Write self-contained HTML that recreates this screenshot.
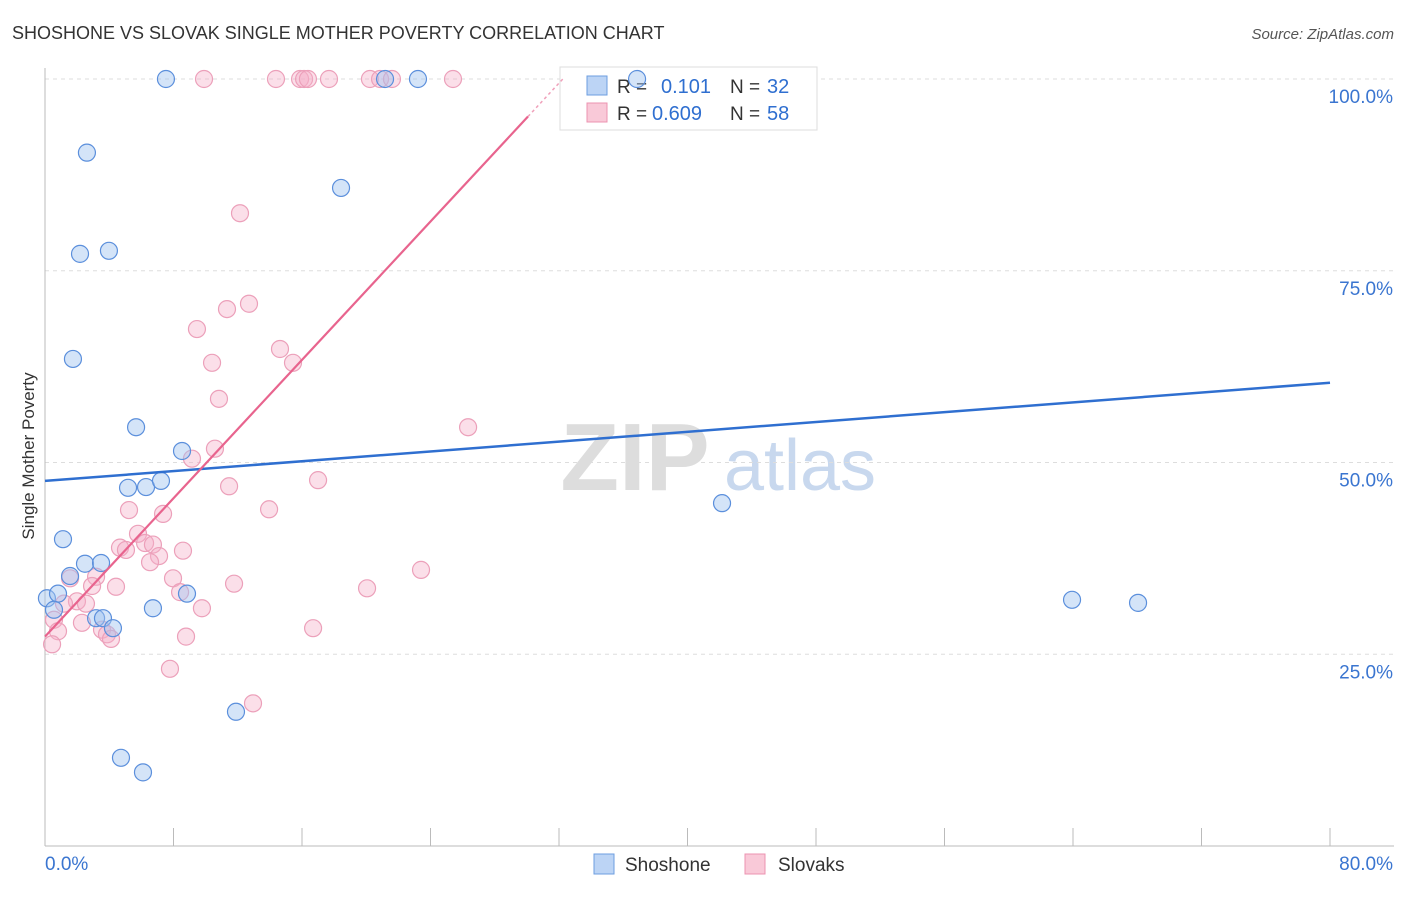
<!DOCTYPE html>
<html><head><meta charset="utf-8">
<style>
body{margin:0;background:#fff;font-family:"Liberation Sans",sans-serif;}
svg text{font-family:"Liberation Sans",sans-serif;}
</style></head>
<body>
<svg id="chart" width="1406" height="892" xmlns="http://www.w3.org/2000/svg">
<text x="12" y="39" font-size="18" fill="#333">SHOSHONE VS SLOVAK SINGLE MOTHER POVERTY CORRELATION CHART</text>
<text x="1394" y="39" font-size="15" fill="#555" text-anchor="end" font-style="italic">Source: ZipAtlas.com</text>
<text transform="translate(34,456) rotate(-90)" font-size="17" fill="#333" text-anchor="middle">Single Mother Poverty</text>
<g>
<text x="635" y="490" font-size="96" fill="#ddd" font-family="Liberation Serif" text-anchor="middle" font-weight="bold">ZIP</text>
<text x="800" y="490" font-size="72" fill="#c8d8ee" text-anchor="middle">atlas</text>
</g>
<g id="grid"></g><g id="axes"></g>
<g>
<rect x="560" y="67" width="257" height="63" fill="#fff" stroke="#ddd"/>
<rect x="587" y="76" width="20" height="19" fill="#bcd4f5" stroke="#6d9ee0"/>
<text x="617" y="93" font-size="19" fill="#333">R =</text><text x="661" y="93" font-size="20" fill="#2f6fd0">0.101</text>
<text x="730" y="93" font-size="19" fill="#333">N =</text><text x="767" y="93" font-size="20" fill="#2f6fd0">32</text>
<rect x="587" y="103" width="20" height="19" fill="#f9c9d8" stroke="#ec93b0"/>
<text x="617" y="120" font-size="19" fill="#333">R =</text><text x="652" y="120" font-size="20" fill="#2f6fd0">0.609</text>
<text x="730" y="120" font-size="19" fill="#333">N =</text><text x="767" y="120" font-size="20" fill="#2f6fd0">58</text>
</g>
<g id="pts"></g><g id="trend"></g>
<g>
<rect x="594" y="854" width="20" height="20" fill="#bcd4f5" stroke="#6d9ee0"/>
<text x="625" y="871" font-size="19" fill="#333">Shoshone</text>
<rect x="745" y="854" width="20" height="20" fill="#f9c9d8" stroke="#ec93b0"/>
<text x="778" y="871" font-size="19" fill="#333">Slovaks</text>
</g>
</svg>
<script>
const shoX=[7.53,21.17,23.22,36.86,2.61,18.43,2.18,3.98,1.74,5.67,8.53,5.17,6.29,7.22,42.15,1.12,2.49,3.49,1.56,0.12,0.81,0.56,3.18,3.61,4.23,6.72,8.84,63.94,68.05,11.89,4.73,6.10];
const shoY=[100,100,100,100,90.4,85.8,77.2,77.6,63.5,54.6,51.5,46.7,46.8,47.6,44.7,40.0,36.8,36.9,35.2,32.3,32.9,30.8,29.7,29.7,28.4,31.0,32.9,32.1,31.7,17.5,11.5,9.6];
const sloX=[9.90,14.38,15.88,16.13,16.37,17.68,20.23,20.86,21.60,25.40,12.14,12.70,11.33,9.46,14.63,15.44,10.40,10.83,26.34,10.58,9.15,17.00,11.46,13.95,5.23,7.35,5.79,6.23,6.72,4.67,5.04,8.59,7.10,6.54,23.41,7.97,1.56,3.18,2.93,4.42,11.77,20.05,8.41,1.99,2.55,1.18,9.77,2.30,0.56,3.55,3.86,4.11,8.78,16.69,0.81,0.44,7.78,12.95];
const sloY=[100,100,100,100,100,100,100,100,100,100,82.5,70.7,70.0,67.4,64.8,63.0,63.0,58.3,54.6,51.8,50.5,47.7,46.9,43.9,43.8,43.3,40.7,39.5,39.3,38.9,38.6,38.5,37.8,37.0,36.0,34.9,34.9,35.1,33.9,33.8,34.2,33.6,33.1,31.9,31.6,31.6,31.0,29.1,29.5,28.2,27.6,27.0,27.3,28.4,28.0,26.3,23.1,18.6];
const xTicks=[0,80];const xTickLabels=["0.0%","80.0%"];
const yTicks=[25,50,75,100];const yTickLabels=["25.0%","50.0%","75.0%","100.0%"];
const shoTrend=[47.6,60.4];const sloTrend=[27.3,2.255];
const X=v=>45+v/80*1285, Y=v=>846-v/100*767;
const NS="http://www.w3.org/2000/svg";
function mk(p,t,a){const e=document.createElementNS(NS,t);for(const k in a)e.setAttribute(k,a[k]);p.appendChild(e);return e;}
const grid=document.getElementById('grid'),axes=document.getElementById('axes');
yTicks.forEach((t,i)=>{
 const l=mk(grid,'line',{x1:45,x2:1394,y1:Y(t),y2:Y(t),stroke:'#ddd','stroke-dasharray':'4,4'});
 
 const tx=mk(axes,'text',{x:1393,y:Y(t)+24,'font-size':19,fill:'#3a75d0','text-anchor':'end'});tx.textContent=yTickLabels[i];
 
});
let ax=mk(axes,'line',{x1:45,x2:45,y1:68,y2:846,stroke:'#bbb'});

ax=mk(axes,'line',{x1:45,x2:1394,y1:846,y2:846,stroke:'#bbb'});

for(let i=1;i<=10;i++){const tk=mk(axes,'line',{x1:X(i*8),x2:X(i*8),y1:828,y2:846,stroke:'#bbb'});
 }
xTicks.forEach((t,i)=>{const tx=mk(axes,'text',{x:i?X(t)+63:X(t),y:870,'font-size':19,fill:'#3a75d0','text-anchor':i?'end':'start'});tx.textContent=xTickLabels[i];
 });
const pts=document.getElementById('pts');
sloX.forEach((v,i)=>{const c=mk(pts,'circle',{cx:X(v),cy:Y(sloY[i]),r:8.5,fill:'rgba(246,176,200,0.4)',stroke:'#eca0ba','stroke-width':1.2});
 });
shoX.forEach((v,i)=>{const c=mk(pts,'circle',{cx:X(v),cy:Y(shoY[i]),r:8.5,fill:'rgba(160,196,240,0.45)',stroke:'#5b8fdc','stroke-width':1.2});
 });
const tr=document.getElementById('trend');
let t1=mk(tr,'line',{x1:X(0),y1:Y(shoTrend[0]),x2:X(80),y2:Y(shoTrend[1]),stroke:'#2f6fd0','stroke-width':2.5});

const ps=x=>sloTrend[0]+sloTrend[1]*x;
let t2=mk(tr,'line',{x1:X(0),y1:Y(ps(0)),x2:X(30.07),y2:Y(ps(30.07)),stroke:'#e8648e','stroke-width':2.2});

let t3=mk(tr,'line',{x1:X(30.07),y1:Y(ps(30.07)),x2:X(32.3),y2:Y(ps(32.3)),stroke:'#f0a0ba','stroke-width':1.5,'stroke-dasharray':'3,3'});

</script>
</body></html>
